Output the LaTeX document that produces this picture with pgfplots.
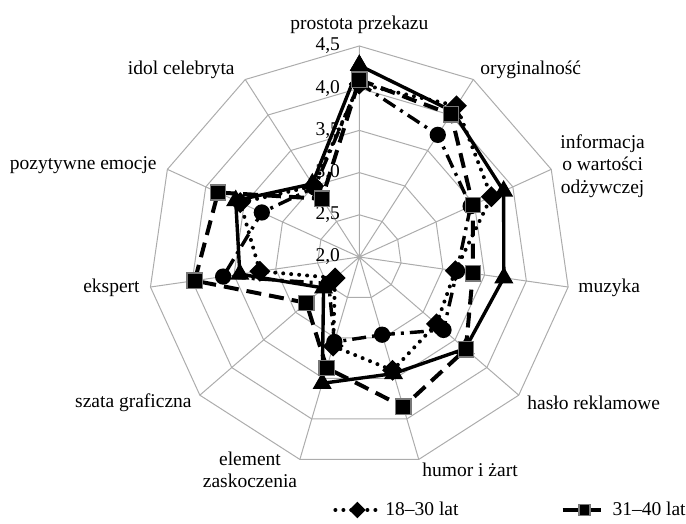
\documentclass[border=0pt]{standalone}
\usepackage{pgfplots}
\pgfplotsset{compat=1.18}
\usepackage{pgfplotstable}
\usepackage{fontspec}
\setmainfont{Liberation Serif}
\definecolor{gridc}{RGB}{172,172,172}
\definecolor{mkedge}{RGB}{120,120,120}

% k: axis index (0 = prostota przekazu, clockwise); values on a 2.0-4.5 scale
\pgfplotstableread{
k  a     b     c     d
0  4.05  4.10  4.27  4.06
1  4.13  4.01  4.05  3.72
2  3.72  3.48  3.88  3.45
3  3.15  3.36  3.73  3.17
4  3.21  3.67  3.66  3.32
5  3.40  3.85  3.44  2.96
6  3.10  3.37  3.56  3.05
7  2.38  2.83  2.56  2.48
8  3.19  3.97  3.43  3.63
9  3.55  3.84  3.61  3.27
10 3.00  2.82  3.03  2.98
11 4.05  4.10  4.27  4.06
}\radardata

\newcommand{\radarplot}[2]{%
  \addplot[#1] table[
    x expr={(\thisrow{#2}-2)*84.4*cos(90-\thisrow{k}*360/11)},
    y expr={(\thisrow{#2}-2)*84.4*sin(90-\thisrow{k}*360/11)}] {\radardata};}

\begin{document}
\fontsize{9.75}{11.2}\selectfont
\begin{tikzpicture}
\path[use as bounding box] (0,0) rectangle (343pt,262pt);
\begin{axis}[
  at={(0,0)}, anchor=south west,
  x=0.5pt, y=0.5pt,
  xmin=-359.3, xmax=326.7, ymin=-267, ymax=257,
  scale only axis, enlargelimits=false, hide axis, clip=false,
  legend style={draw=none, fill=none, at={(axis cs:-26.3,-253)}, anchor=west,
    inner sep=0pt, font=\fontsize{9.75}{11.2}\selectfont},
  legend columns=2,
  /tikz/every even column/.append style={column sep=49pt},
  legend cell align=left,
  legend image code/.code={\draw[mark repeat=2,mark phase=2,#1,every mark/.append style={scale=0.72}] plot coordinates {(0pt,0pt) (11pt,0pt) (22pt,0pt)};},
]
% grid
\draw[gridc, line width=0.5pt] \foreach \k in {0,...,10}{ (axis cs:0,0) -- (axis cs:{211*sin(\k*360/11)},{211*cos(\k*360/11)}) };
\draw[gridc, line width=0.5pt] \foreach \r in {42.2,84.4,126.6,168.8,211}{ (axis cs:0,\r) \foreach \k in {1,...,10}{ -- (axis cs:{\r*sin(\k*360/11)},{\r*cos(\k*360/11)}) } -- cycle };
% scale labels
\node[anchor=east, inner sep=0pt] at (axis cs:-19,0) {2,0};
\node[anchor=east, inner sep=0pt] at (axis cs:-19,42.2) {2,5};
\node[anchor=east, inner sep=0pt] at (axis cs:-19,84.4) {3,0};
\node[anchor=east, inner sep=0pt] at (axis cs:-19,126.6) {3,5};
\node[anchor=east, inner sep=0pt] at (axis cs:-19,168.8) {4,0};
\node[anchor=east, inner sep=0pt] at (axis cs:-19,211) {4,5};
% category labels
\node[inner sep=0pt] at (axis cs:0,232) {prostota przekazu};
\node[anchor=west, inner sep=0pt] at (axis cs:120.7,187) {oryginalność};
\node[anchor=west, inner sep=0pt, align=center] at (axis cs:200.7,91) {informacja\\o wartości\\odżywczej};
\node[anchor=west, inner sep=0pt] at (axis cs:218.7,-31) {muzyka};
\node[anchor=west, inner sep=0pt] at (axis cs:167.7,-146) {hasło reklamowe};
\node[anchor=west, inner sep=0pt] at (axis cs:62.7,-213) {humor i żart};
\node[inner sep=0pt, align=center] at (axis cs:-109.3,-213) {element\\zaskoczenia};
\node[anchor=east, inner sep=0pt] at (axis cs:-167.3,-146) {szata graficzna};
\node[anchor=east, inner sep=0pt] at (axis cs:-219.3,-31) {ekspert};
\node[anchor=east, inner sep=0pt] at (axis cs:-202.3,92) {pozytywne emocje};
\node[anchor=east, inner sep=0pt] at (axis cs:-124.3,187) {idol celebryta};
% data
\radarplot{forget plot, black, line width=1.7pt, dash pattern=on 7pt off 3pt on 1.5pt off 3pt, mark=*, mark size=3.2pt, mark options={solid, fill=black}}{d}
\radarplot{forget plot, black, line width=1.7pt, mark=triangle*, mark size=3.8pt, mark options={solid, fill=black}}{c}
\radarplot{black, line width=2pt, line cap=round, dash pattern=on 0pt off 4pt, mark=square*, mark size=2.7pt, mark options={solid, rotate=45, fill=black, draw=black}}{a}
\addlegendentry{18--30 lat}
\radarplot{black, line width=2pt, dash pattern=on 7.5pt off 4pt, mark=square*, mark size=3.8pt, mark options={solid, fill=black, draw=mkedge, line width=0.7pt}}{b}
\addlegendentry{31--40 lat}
\end{axis}
\end{tikzpicture}
\end{document}
